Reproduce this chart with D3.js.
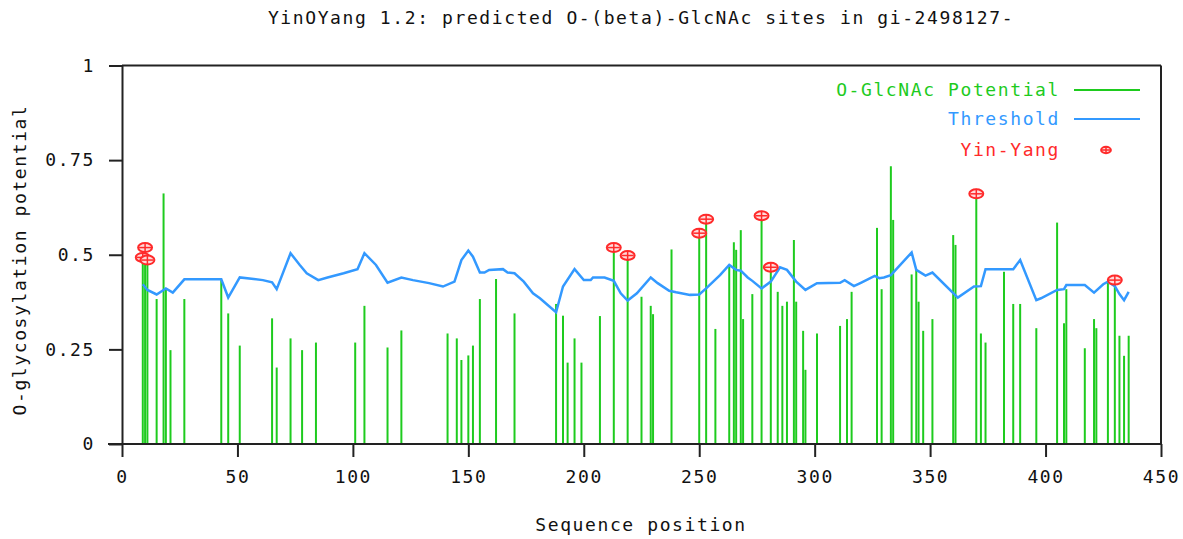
<!DOCTYPE html>
<html>
<head>
<meta charset="utf-8">
<script src="https://cdn.jsdelivr.net/npm/d3@7"></script>
<style>
  body { margin: 0; background: #fff; }
  text { font-family: "DejaVu Sans Mono", monospace; font-size: 18px; letter-spacing: 1.6px; }
</style>
</head>
<body>
<div id="chart"></div>
<script>
// O-GlcNAc potential per sequence position
var potPos = [9, 10, 11, 15, 18, 19, 21, 27, 43, 46, 51, 65, 67, 73, 78, 84, 101, 105, 115, 121,
  141, 145, 147, 150, 152, 155, 162, 170, 188, 191, 193, 196, 199, 207, 213, 219, 225, 229, 230, 238,
  250, 253, 257, 263, 265, 266, 268, 269, 273, 277, 281, 284, 286, 288, 291, 292, 295, 296, 301, 311,
  314, 316, 327, 329, 333, 334, 342, 344, 345, 347, 351, 360, 361, 370, 372, 374, 382, 386, 389, 396,
  405, 408, 409, 417, 421, 422, 427, 430, 432, 434, 436];
var potVal = [0.493, 0.519, 0.486, 0.383, 0.662, 0.41, 0.248, 0.383, 0.433, 0.345, 0.26, 0.332, 0.202, 0.279, 0.248, 0.268, 0.268, 0.365, 0.255, 0.30,
  0.292, 0.279, 0.222, 0.234, 0.26, 0.383, 0.436, 0.345, 0.37, 0.339, 0.215, 0.279, 0.215, 0.338, 0.519, 0.498, 0.389, 0.365, 0.343, 0.514,
  0.557, 0.594, 0.304, 0.473, 0.533, 0.513, 0.565, 0.33, 0.396, 0.603, 0.467, 0.402, 0.365, 0.376, 0.539, 0.376, 0.299, 0.196, 0.292, 0.312,
  0.33, 0.402, 0.571, 0.409, 0.734, 0.592, 0.448, 0.462, 0.376, 0.299, 0.33, 0.552, 0.526, 0.661, 0.292, 0.268, 0.455, 0.37, 0.37, 0.306,
  0.585, 0.319, 0.409, 0.253, 0.33, 0.306, 0.431, 0.433, 0.286, 0.233, 0.286];

// threshold curve
var thrPos = [9, 11, 15, 18, 19, 22, 27, 43, 46, 51, 61, 65, 67, 73, 77, 80, 85, 89, 96, 102,
  105, 110, 115, 121, 126, 133, 139, 144, 147, 150, 152, 155, 157, 159, 165, 167, 170, 174, 178, 181,
  188, 191, 196, 200, 203, 204, 209, 213, 216, 219, 223, 229, 232, 237, 240, 246, 250, 253, 259, 263,
  266, 268, 271, 273, 277, 281, 285, 288, 292, 296, 301, 311, 313, 317, 320, 326, 328, 330, 333, 342,
  344, 348, 351, 362, 369, 372, 374, 386, 389, 396, 398, 405, 408, 409, 417, 421, 425, 427, 430, 432,
  434, 436];
var thrVal = [0.422, 0.407, 0.395, 0.407, 0.411, 0.40, 0.435, 0.435, 0.387, 0.44, 0.433, 0.427, 0.409, 0.504, 0.473, 0.451, 0.433, 0.44, 0.451, 0.462,
  0.504, 0.473, 0.426, 0.44, 0.433, 0.425, 0.416, 0.429, 0.486, 0.511, 0.495, 0.453, 0.453, 0.46, 0.462, 0.453, 0.451, 0.429, 0.398, 0.385,
  0.348, 0.416, 0.462, 0.433, 0.433, 0.44, 0.44, 0.431, 0.398, 0.379, 0.398, 0.44, 0.425, 0.405, 0.401, 0.394, 0.395, 0.411, 0.446, 0.473,
  0.46, 0.458, 0.44, 0.431, 0.411, 0.429, 0.467, 0.46, 0.429, 0.407, 0.425, 0.426, 0.433, 0.417, 0.426, 0.444, 0.438, 0.44, 0.446, 0.506,
  0.46, 0.445, 0.453, 0.387, 0.416, 0.417, 0.462, 0.462, 0.486, 0.38, 0.385, 0.407, 0.409, 0.42, 0.42, 0.40, 0.422, 0.429, 0.417, 0.396,
  0.38, 0.402];

// positions flagged as Yin-Yang sites
var yinYang = [9, 10, 11, 213, 219, 250, 253, 277, 281, 370, 430];

var xTicks = [0, 50, 100, 150, 200, 250, 300, 350, 400, 450];
var yTicks = [0, 0.25, 0.5, 0.75, 1];
var yTickLabels = ["0", "0.25", "0.5", "0.75", "1"];

var W = 1183, H = 539;
var green = "#1ecb1e", blue = "#3399ff", red = "#ff2a2a";

var svg = d3.select("#chart").append("svg")
    .attr("width", W)
    .attr("height", H);

var x = d3.scaleLinear().domain([0, 450]).range([122, 1161]);
var y = d3.scaleLinear().domain([0, 1]).range([444, 65.5]);

// frame
svg.append("line").attr("x1", x(0)).attr("x2", x(450)).attr("y1", y(1)).attr("y2", y(1))
    .attr("stroke", "#222").attr("stroke-width", 2);
svg.append("line").attr("x1", x(450)).attr("x2", x(450)).attr("y1", y(1)).attr("y2", y(0))
    .attr("stroke", "#222").attr("stroke-width", 2);

// potential bars
var pot = potPos.map(function (p, i) { return { pos: p, val: potVal[i] }; });
svg.selectAll("line.bar")
    .data(pot)
    .enter()
    .append("line")
    .attr("class", "bar")
    .attr("x1", function (d) { return x(d.pos); })
    .attr("x2", function (d) { return x(d.pos); })
    .attr("y1", y(0))
    .attr("y2", function (d) { return y(d.val); })
    .attr("stroke", green)
    .attr("stroke-width", 2);

// threshold line
var thr = thrPos.map(function (p, i) { return [p, thrVal[i]]; });
svg.append("path")
    .datum(thr)
    .attr("fill", "none")
    .attr("stroke", blue)
    .attr("stroke-width", 2.5)
    .attr("d", d3.line()
        .x(function (d) { return x(d[0]); })
        .y(function (d) { return y(d[1]); }));

// yin-yang markers
function marker(g, s) {
    s = s || 1;
    g.append("ellipse").attr("rx", 7 * s).attr("ry", 4.5 * s)
        .attr("fill", "#ffdada").attr("stroke", red).attr("stroke-width", 2);
    g.append("line").attr("x1", -6 * s).attr("x2", 6 * s).attr("y1", 0).attr("y2", 0)
        .attr("stroke", red).attr("stroke-width", 1.5);
    g.append("line").attr("x1", 0).attr("x2", 0).attr("y1", -5 * s).attr("y2", 5 * s)
        .attr("stroke", red).attr("stroke-width", 1.5);
}
var yy = pot.filter(function (d) { return yinYang.indexOf(d.pos) >= 0; });
svg.selectAll("g.yy")
    .data(yy)
    .enter()
    .append("g")
    .attr("class", "yy")
    .attr("transform", function (d) { return "translate(" + x(d.pos) + "," + y(d.val) + ")"; })
    .each(function () { marker(d3.select(this)); });

// axes
var xAxis = svg.append("g")
    .attr("transform", "translate(0," + y(0) + ")")
    .call(d3.axisBottom(x).tickValues(xTicks).tickSize(13).tickSizeOuter(0).tickPadding(10));
xAxis.select(".domain").attr("d", "M108,0H" + x(450)).attr("stroke", "#222").attr("stroke-width", 2);
xAxis.selectAll(".tick line").attr("stroke", "#222").attr("stroke-width", 2);
xAxis.selectAll("text").attr("fill", "#111").style("font-size", "18px").attr("dy", "0.9em");

var yAxis = svg.append("g")
    .attr("transform", "translate(" + x(0) + ",0)")
    .call(d3.axisLeft(y).tickValues(yTicks).tickSize(13).tickSizeOuter(0).tickPadding(14)
        .tickFormat(function (d, i) { return yTickLabels[i]; }));
yAxis.select(".domain").attr("stroke", "#222").attr("stroke-width", 2);
yAxis.selectAll(".tick line").attr("stroke", "#222").attr("stroke-width", 2);
yAxis.selectAll("text").attr("fill", "#111").style("font-size", "18px");

// titles
svg.append("text")
    .attr("x", 641).attr("y", 24)
    .attr("text-anchor", "middle")
    .attr("fill", "#111")
    .text("YinOYang 1.2: predicted O-(beta)-GlcNAc sites in gi-2498127-");
svg.append("text")
    .attr("x", 641).attr("y", 531)
    .attr("text-anchor", "middle")
    .attr("fill", "#111")
    .text("Sequence position");
svg.append("text")
    .attr("transform", "translate(26,260) rotate(-90)")
    .attr("text-anchor", "middle")
    .attr("fill", "#111")
    .text("O-glycosylation potential");

// legend
var legend = [
    { label: "O-GlcNAc Potential", color: green, y: 90 },
    { label: "Threshold", color: blue, y: 119 },
    { label: "Yin-Yang", color: red, y: 150 }
];
svg.selectAll("text.leg")
    .data(legend)
    .enter()
    .append("text")
    .attr("class", "leg")
    .attr("x", 1060)
    .attr("y", function (d) { return d.y + 6; })
    .attr("text-anchor", "end")
    .attr("fill", function (d) { return d.color; })
    .text(function (d) { return d.label; });
svg.selectAll("line.leg")
    .data(legend.slice(0, 2))
    .enter()
    .append("line")
    .attr("class", "leg")
    .attr("x1", 1074).attr("x2", 1140)
    .attr("y1", function (d) { return d.y; })
    .attr("y2", function (d) { return d.y; })
    .attr("stroke", function (d) { return d.color; })
    .attr("stroke-width", 2);
svg.append("g")
    .attr("transform", "translate(1106,150)")
    .call(marker, 0.7);
</script>
</body>
</html>
